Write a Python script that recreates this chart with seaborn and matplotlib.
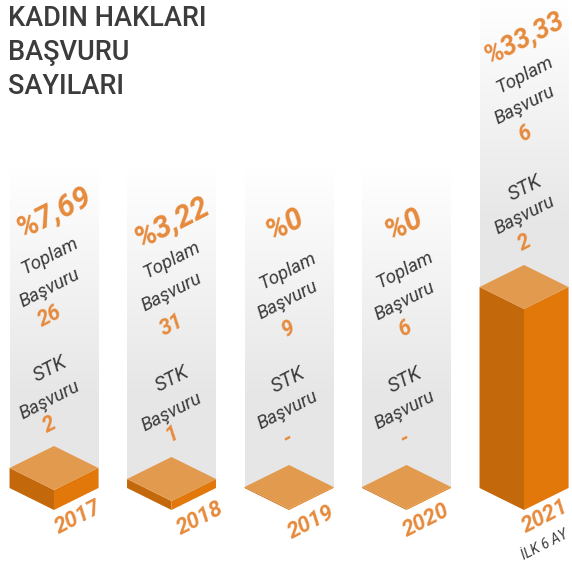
import numpy as np
import pandas as pd
import matplotlib
matplotlib.use('Agg')
import matplotlib.pyplot as plt
from matplotlib.colors import LinearSegmentedColormap
import seaborn as sns

## data
years = ['2017', '2018', '2019', '2020', '2021']
rates = ['%7,69', '%3,22', '%0', '%0', '%33,33']
toplam = ['26', '31', '9', '6', '6']
stk = ['2', '1', '-', '-', '2']
bar_heights = [20, 9, 1, 1, 201]
title_lines = ['KADIN HAKLARI', 'BAŞVURU', 'SAYILARI']

df = pd.DataFrame({'year': years, 'height': bar_heights})

sns.set_theme(style='white')
plt.rcParams['font.family'] = ['Roboto', 'DejaVu Sans']

ORANGE = '#e2780a'
DARK_ORANGE = '#c4690b'
LIGHT_ORANGE = '#e29a4e'
TEXT_ORANGE = '#e68a3c'
GREY = '#3c3c3c'
ANGLE = 27

fig = plt.figure(figsize=(5.72, 5.70), dpi=100)
ax = fig.add_axes([0, 0, 1, 1])

# one unit of y is one pixel, 0 is the level of the side corners of the base
sns.barplot(data=df, x='year', y='height', width=0.757, color=ORANGE, saturation=1, ax=ax)
ax.axis('off')


def py(pixel):
    return 488 - pixel


def px(pixel):
    return (pixel - 54) / 117.5


# grey columns behind the bars, fading out to white at the top
fade = LinearSegmentedColormap.from_list('fade', ['#ffffff', '#e6e6e6'])
col_tops = [168, 168, 168, 168, 0]
bars = list(ax.patches)
for bar, top in zip(bars, col_tops):
    x0, x1 = bar.get_x(), bar.get_x() + bar.get_width()
    n = 488 - top
    grad = np.clip(np.arange(n) / 230, 0, 1).reshape(-1, 1)
    ax.imshow(grad, cmap=fade, vmin=0, vmax=1, aspect='auto', zorder=1,
              extent=[x0, x1, py(488), py(top)], origin='upper')
ax.set_xlim(-54 / 117.5, (572 - 54) / 117.5)
ax.set_ylim(488 - 570, 488)

# the 3d faces come from the seaborn bars
depth = 22
for bar in bars:
    x0, x1 = bar.get_x(), bar.get_x() + bar.get_width()
    xc = (x0 + x1) / 2
    h = bar.get_height()
    ax.fill([x0, xc, xc, x0], [0, -depth, h - depth, h], color=DARK_ORANGE, lw=0, zorder=2)
    ax.fill([xc, x1, x1, xc], [-depth, 0, h, h - depth], color=ORANGE, lw=0, zorder=2)
    ax.fill([x0, xc, x1, xc], [h, h + depth, h, h - depth], color=LIGHT_ORANGE, lw=0, zorder=3)
    bar.set_visible(False)


def label(x, y, s, size, color=GREY, weight='normal', rotation=ANGLE):
    ax.text(px(x), py(y), s, fontsize=size, color=color, fontweight=weight, style='italic',
            rotation=rotation, rotation_mode='anchor', ha='center', va='center', zorder=5)


## text layout, pixels
cx = [50, 172, 288, 405, 525]
rate_pos = [(54, 212), (172, 222), (285, 225), (404, 225), (524, 38)]
rate_size = [22, 22, 22, 22, 19.5]
row_y = [[256, 288, 316, 369, 400, 425],
         [260, 292, 325, 379, 412, 434],
         [271, 300, 329, 380, 410, 439],
         [270, 301, 329, 380, 410, 439],
         [75, 105, 134, 188, 215, 243]]
year_pos = [(78, 517), (200, 518), (311, 522), (426, 520), (545, 516)]

for i in range(len(years)):
    label(rate_pos[i][0], rate_pos[i][1], rates[i], rate_size[i], TEXT_ORANGE, 'bold')
    rows = row_y[i]
    label(cx[i], rows[0], 'Toplam', 13.5)
    label(cx[i], rows[1], 'Başvuru', 13.5)
    label(cx[i], rows[2], toplam[i], 15.5, TEXT_ORANGE, 'bold')
    label(cx[i], rows[3], 'STK', 14.5)
    label(cx[i], rows[4], 'Başvuru', 13.5)
    label(cx[i], rows[5], stk[i], 15.5, TEXT_ORANGE, 'bold')
    label(year_pos[i][0], year_pos[i][1], years[i], 16, TEXT_ORANGE, 'bold')
label(545, 545, 'İLK 6 AY', 10)

for i, line in enumerate(title_lines):
    ax.text(px(8), py(18 + i * 34), line, fontsize=19.5, color=GREY, fontweight='medium',
            ha='left', va='center', zorder=5)

fig.savefig('out.png', dpi=100)
